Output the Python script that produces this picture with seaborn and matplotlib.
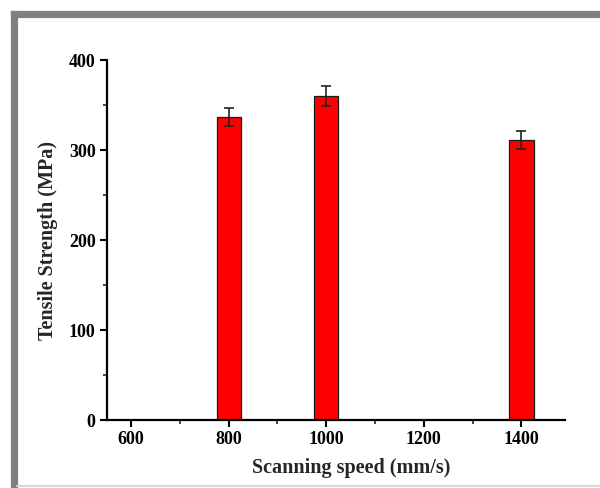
import numpy as np
import matplotlib
matplotlib.use("Agg")
import matplotlib.pyplot as plt
import seaborn as sns
from matplotlib.lines import Line2D
from matplotlib.ticker import MultipleLocator

sns.set_theme(style="ticks")
plt.rcParams["font.family"] = ["Liberation Serif", "DejaVu Serif"]
plt.rcParams["font.weight"] = "bold"

# data
speeds = [800, 1000, 1400]
strength = [337, 360, 311]
strength_err = [10, 11, 10]
tick_speeds = [600, 800, 1000, 1200, 1400]

fig = plt.figure(figsize=(6, 4.88), dpi=100)
ax = fig.add_axes([0.178, 0.139, 0.764, 0.738])

sns.barplot(x=speeds, y=strength, native_scale=True, width=0.25,
            color="#ff0000", saturation=1, edgecolor="#1a1a1a", linewidth=0.9,
            errorbar=None, ax=ax)
ax.errorbar(speeds, strength, yerr=strength_err, fmt="none", ecolor="#222222",
            elinewidth=1.2, capsize=3.5, capthick=1.2)

ax.set_xlim(550, 1490)
ax.set_ylim(0, 400)
ax.set_xticks(tick_speeds)
ax.set_xticklabels([str(s) for s in tick_speeds])
ax.set_yticks([0, 100, 200, 300, 400])
ax.xaxis.set_minor_locator(MultipleLocator(100))
ax.yaxis.set_minor_locator(MultipleLocator(50))

for s in ["top", "right"]:
    ax.spines[s].set_visible(False)
for s in ["left", "bottom"]:
    ax.spines[s].set_linewidth(1.6)
    ax.spines[s].set_color("black")

ax.tick_params(axis="both", which="major", direction="out", length=5, width=1.5,
               labelsize=13, colors="black", pad=3)
ax.tick_params(axis="both", which="minor", direction="out", length=3, width=1.2)
for lab in ax.get_xticklabels() + ax.get_yticklabels():
    lab.set_fontweight("bold")

ax.set_xlabel("Scanning speed (mm/s)", fontsize=14.5, fontweight="bold", labelpad=4)
ax.set_ylabel("Tensile Strength (MPa)", fontsize=14.5, fontweight="bold", labelpad=8)
ax.xaxis.set_label_coords(0.533, -0.105)

# grey picture frame (left and top), faint line at the bottom
grey = "#808080"
fig.lines.append(Line2D([13.5 / 600, 13.5 / 600], [0, 1 - 13.5 / 488],
                        transform=fig.transFigure, color=grey, linewidth=5.2,
                        solid_capstyle="projecting"))
fig.lines.append(Line2D([13.5 / 600, 1], [1 - 13.5 / 488, 1 - 13.5 / 488],
                        transform=fig.transFigure, color=grey, linewidth=5.2,
                        solid_capstyle="projecting"))
fig.lines.append(Line2D([17 / 600, 1], [2 / 488, 2 / 488], transform=fig.transFigure,
                        color="#d8d8d8", linewidth=1.5))

fig.savefig("out.png", dpi=100)
